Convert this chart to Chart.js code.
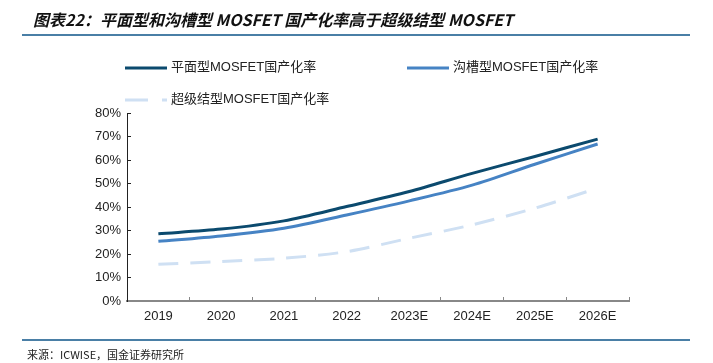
<!DOCTYPE html>
<html>
<head>
<meta charset="utf-8">
<script src="https://cdn.jsdelivr.net/npm/chart.js@4"></script>
<style>
  body { margin: 0; width: 713px; height: 363px; position: relative; background: #fff; overflow: hidden; }
  #title { position: absolute; left: 33px; top: 7px; font: italic bold 16px "Noto Sans CJK SC"; color: #111; white-space: nowrap; }
  .rule { position: absolute; left: 22px; width: 668px; height: 2px; background: #4a7fa6; }
  #source { position: absolute; left: 27px; top: 346px; font: 11px "Noto Sans CJK SC"; color: #222; white-space: nowrap; }
  .leg { position: absolute; font: 13px "Liberation Sans", "Noto Sans CJK SC"; color: #222; white-space: nowrap; }
  .leg canvas { vertical-align: middle; margin-right: 4px; }
  #wrap { position: absolute; left: 0; top: 0; width: 713px; height: 363px; }
</style>
</head>
<body>
<div id="wrap"><canvas id="chart"></canvas></div>
<div id="title">图表22：平面型和沟槽型 MOSFET 国产化率高于超级结型 MOSFET</div>
<div class="rule" style="top:34px"></div>
<div class="rule" style="top:339px"></div>
<div id="source">来源：ICWISE，国金证券研究所</div>
<div id="legend"></div>
<script>
// 数据
const years = ['2019', '2020', '2021', '2022', '2023E', '2024E', '2025E', '2026E'];
const planar = [28.6, 30.6, 34.1, 40.2, 46.6, 54.3, 61.5, 68.9];     // 平面型
const trench = [25.4, 27.7, 31.0, 36.6, 42.6, 49.3, 58.2, 66.8];     // 沟槽型
const superJ = [15.6, 16.8, 18.2, 21.0, 26.7, 32.4, 39.5, 48.0];     // 超级结型
const yTicks = [0, 10, 20, 30, 40, 50, 60, 70, 80];

const seriesNames = ['平面型MOSFET国产化率', '沟槽型MOSFET国产化率', '超级结型MOSFET国产化率'];
const colors = ['#0b4a6e', '#4683c4', '#cfe0f3'];

// HTML legend
const legPos = [[125, 56], [407, 56], [125, 88]];
seriesNames.forEach(function (name, i) {
  const d = document.createElement('div');
  d.className = 'leg';
  d.style.left = legPos[i][0] + 'px';
  d.style.top = legPos[i][1] + 'px';
  const c = document.createElement('canvas');
  c.width = 42; c.height = 16;
  const g = c.getContext('2d');
  g.strokeStyle = colors[i];
  g.lineWidth = 3;
  if (i === 2) g.setLineDash([23, 14]);
  g.beginPath(); g.moveTo(0, 8); g.lineTo(42, 8); g.stroke();
  d.appendChild(c);
  d.appendChild(document.createTextNode(name));
  document.getElementById('legend').appendChild(d);
});

const ctx = document.getElementById('chart');
new Chart(ctx, {
  type: 'line',
  data: {
    labels: years,
    datasets: [
      { label: seriesNames[0], data: planar, borderColor: colors[0], borderWidth: 3, tension: 0.3, pointRadius: 0 },
      { label: seriesNames[1], data: trench, borderColor: colors[1], borderWidth: 3, tension: 0.3, pointRadius: 0 },
      { label: seriesNames[2], data: superJ, borderColor: colors[2], borderWidth: 3, tension: 0.3, pointRadius: 0,
        borderDash: [20, 12] }
    ]
  },
  options: {
    responsive: true,
    maintainAspectRatio: false,
    animation: false,
    layout: { padding: { left: 82, right: 84, top: 113, bottom: 32 } },
    plugins: { legend: { display: false }, tooltip: { enabled: false } },
    scales: {
      x: {
        offset: true,
        afterFit: function (s) { s.height = 30; },
        grid: { offset: true, drawOnChartArea: false, tickLength: -4, color: '#888', lineWidth: 1 },
        border: { color: '#888', width: 2 },
        ticks: { color: '#222', font: { family: 'Liberation Sans', size: 13 }, padding: 12, maxRotation: 0 }
      },
      y: {
        min: 0, max: 80,
        afterFit: function (s) { s.width = 45; },
        afterBuildTicks: function (s) { s.ticks = yTicks.map(function (v) { return { value: v }; }); },
        grid: { drawOnChartArea: false, tickLength: -4, color: '#222' },
        border: { color: '#222', width: 1 },
        ticks: {
          color: '#222', font: { family: 'Liberation Sans', size: 13 }, padding: 10,
          callback: function (v) { return v + '%'; }
        }
      }
    }
  }
});
</script>
</body>
</html>
